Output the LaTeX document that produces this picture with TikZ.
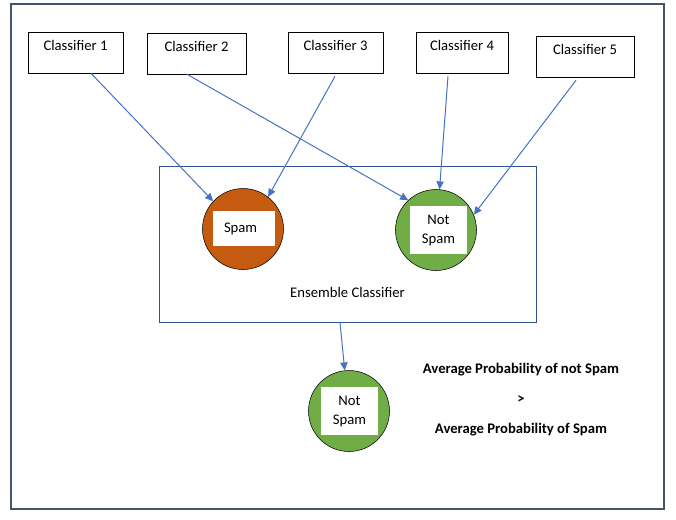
\documentclass[tikz,border=0pt]{standalone}
\usepackage{fontspec}
\setmainfont{Carlito}
\usetikzlibrary{arrows.meta}
\def \px {0.75pt}
\definecolor{spamcol}{HTML}{C55A11}
\definecolor{hamcol}{HTML}{70AD47}
\definecolor{linkcol}{HTML}{4472C4}
\definecolor{framecol}{HTML}{44546A}
\definecolor{enscol}{HTML}{2F528F}
\tikzstyle{clsbox}=[draw, rectangle, inner sep=0, text height=18*\px, text depth=23*\px, font=\fontsize{11}{13}\selectfont]
\tikzstyle{vote}=[draw, circle, minimum size=81*\px, inner sep=0]
\tikzstyle{tag}=[fill=white, rectangle, inner sep=0, align=center, font=\fontsize{11}{14.25}\selectfont]
\tikzstyle{link}=[draw=linkcol, line width=\px, -{Triangle[width=5.5pt, length=6pt]}]

\begin{document}
\begin{tikzpicture}[x=\px, y=-\px]

\useasboundingbox (0,0) rectangle (676,519);
\draw[framecol, line width=1.2*\px] (11,4) rectangle (664,509);

\foreach \i/\x/\y/\w in {1/75.5/50/95, 2/196.5/51/99, 3/335.5/50/95, 4/462/50/92, 5/585/54/98}
    \node[clsbox, anchor=base, minimum width=\w*\px] (C\i) at (\x, \y) {Classifier \i};

\node[draw=enscol, line width=\px, rectangle, inner sep=0, minimum width=377*\px,
      text height=131*\px, text depth=25*\px, font=\fontsize{11}{13}\selectfont] (E) at (347.5, 244) {Ensemble Classifier};

\node[vote, fill=spamcol] (S) at (243, 229) {};
\node[vote, fill=hamcol] (N) at (436, 230) {};
\node[vote, fill=hamcol] (R) at (349, 411) {};

\node[tag, minimum width=62*\px, minimum height=35*\px, text width=40*\px, align=left] (Sb) at (244, 228.5) {Spam};
\node[tag, minimum width=57*\px, minimum height=48*\px] (Nb) at (438.5, 230) {Not\\Spam};
\node[tag, minimum width=57*\px, minimum height=48*\px] (Rb) at (349.5, 411) {Not\\Spam};

\foreach \i/\dx/\dy/\n/\a in {1/15.5/0/S/137, 2/-9.5/0/N/133, 3/-0.5/3/S/52, 4/-14/3/N/85, 5/-9/3/N/22}
    \draw[link] ([shift={(\dx, \dy)}]C\i.south) -- (\n.\a);

\draw[link] ([shift={(-7.5, 0)}]E.south) -- (R.96);

\node[align=center, font=\fontsize{11}{22.5}\selectfont\bfseries] (V) at (521, 400)
    {Average Probability of not Spam\\>\\Average Probability of Spam};

\end{tikzpicture}
\end{document}
